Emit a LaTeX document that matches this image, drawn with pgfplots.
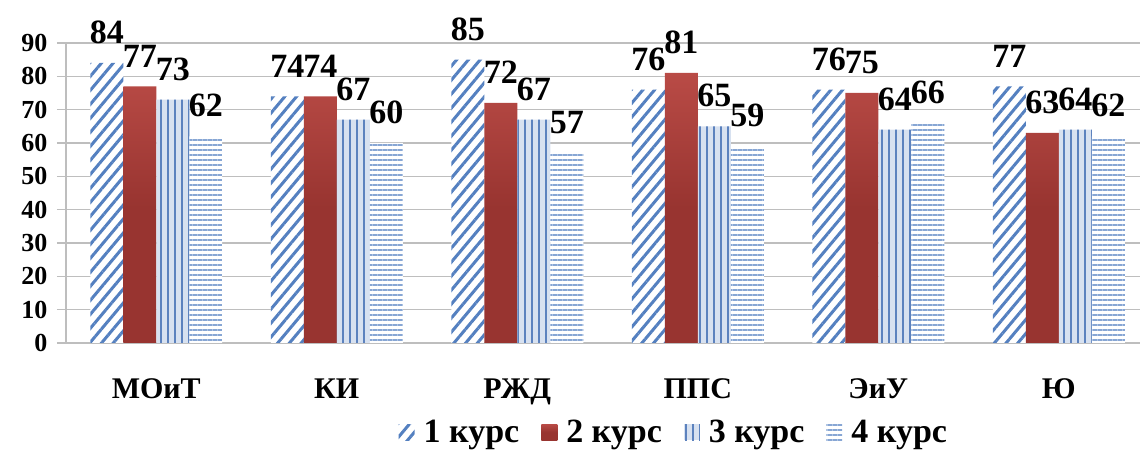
\documentclass[border=0pt]{standalone}
\usepackage{fontspec}
\setmainfont{Liberation Serif}
\usepackage{pgfplots}
\pgfplotsset{compat=1.18}
\usetikzlibrary{patterns.meta}

\definecolor{stripeblue}{RGB}{84,128,192}
\definecolor{vertblue}{RGB}{92,130,190}
\definecolor{horzblue}{RGB}{135,166,212}
\definecolor{barred}{RGB}{152,52,48}
\definecolor{barredtop}{RGB}{185,75,70}
\definecolor{gridgray}{RGB}{190,190,190}

\begin{document}
\begin{tikzpicture}
\begin{axis}[
  name=ax,
  scale only axis,
  width=1074pt, height=300pt,
  ybar=0pt, bar width=33pt,
  xmin=-0.5, xmax=5.45,
  ymin=0, ymax=90,
  ytick={0,10,...,90},
  xtick=data,
  xticklabels={МОиТ, КИ, РЖД, ППС, ЭиУ, Ю},
  axis lines*=left,
  axis line style={gridgray, line width=1.2pt},
  ymajorgrids,
  grid style={gridgray, line width=1.2pt},
  major tick length=9pt,
  ytick style={gridgray, line width=1.2pt},
  xtick style={draw=none},
  tick align=outside,
  /pgf/number format/assume math mode=true,
  yticklabel style={font=\bfseries\fontsize{26}{26}\selectfont, xshift=-6pt},
  xticklabel style={font=\bfseries\fontsize{30}{30}\selectfont, anchor=base, yshift=-47pt},
  clip=false,
  nodes near coords,
  every node near coord/.append style={font=\bfseries\fontsize{34}{34}\selectfont,
    black, anchor=south, inner sep=0pt, yshift=19pt},
  legend columns=4,
  legend style={at={(0.566,-0.297)}, anchor=center, draw=none, fill=none,
    font=\bfseries\fontsize{34}{34}\selectfont,
    /tikz/every odd column/.append style={column sep=7pt},
    /tikz/every even column/.append style={column sep=20pt}},
  legend image code/.code={\draw[#1, draw=none] (0pt,-8pt) rectangle (16pt,8pt);},
]

\addplot[draw=none, fill=white,
  postaction={pattern={Lines[angle=50, distance=9pt, line width=3pt]}, pattern color=stripeblue}]
coordinates {(0,84) (1,74) (2,85) (3,76) (4,76) (5,77)};

\addplot[draw=none, top color=barredtop, bottom color=barred, middle color=barred, shading angle=0]
coordinates {(0,77) (1,74) (2,72) (3,81) (4,75) (5,63)};

\addplot[draw=none, fill={rgb,255:red,215;green,225;blue,240},
  postaction={pattern={Lines[angle=90, distance=7pt, line width=2.5pt]}, pattern color=vertblue}]
coordinates {(0,73) (1,67) (2,67) (3,65) (4,64) (5,64)};

\addplot[draw=none, fill=white,
  postaction={pattern={Lines[angle=0, distance=5pt, line width=2pt]}, pattern color=horzblue}]
coordinates {(0,62) (1,60) (2,57) (3,59) (4,66) (5,62)};

\legend{1 курс, 2 курс, 3 курс, 4 курс}
\end{axis}
\pgfresetboundingbox
\path ([shift={(-66pt,-107pt)}]ax.south west) rectangle ([shift={(0pt,43pt)}]ax.north east);
\end{tikzpicture}
\end{document}
